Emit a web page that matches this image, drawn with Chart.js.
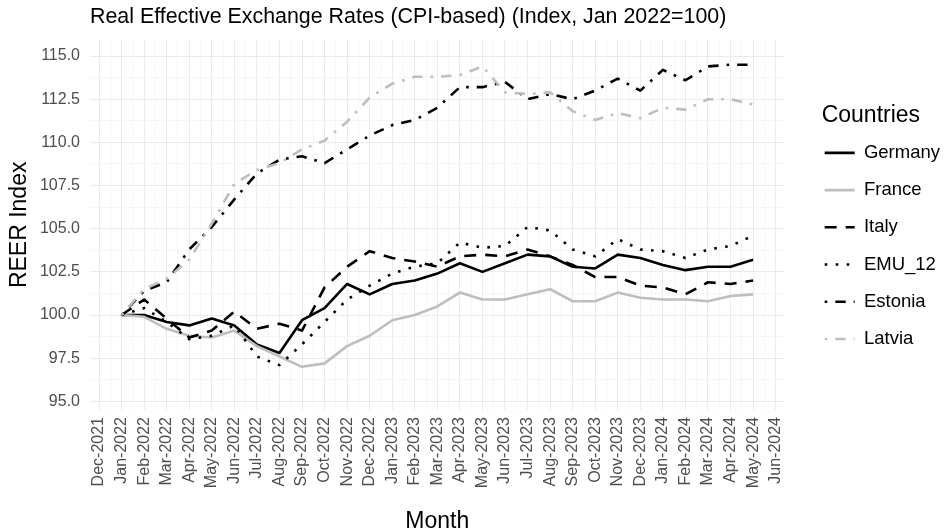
<!DOCTYPE html>
<html>
<head>
<meta charset="utf-8">
<title>REER chart</title>
<script src="https://cdn.jsdelivr.net/npm/chart.js@4.4.1/dist/chart.umd.min.js"></script>
<style>
  html, body { margin: 0; padding: 0; background: #ffffff; }
  #wrap { width: 952px; height: 532px; }
</style>
</head>
<body>
<div id="wrap"><canvas id="reerChart" width="952" height="532"></canvas></div>
<script>
// Tick labels on the month axis (Dec-2021 .. Jun-2024), data runs Jan-2022 .. May-2024
const months = [
    'Dec-2021', 'Jan-2022', 'Feb-2022', 'Mar-2022', 'Apr-2022', 'May-2022', 'Jun-2022',
    'Jul-2022', 'Aug-2022', 'Sep-2022', 'Oct-2022', 'Nov-2022', 'Dec-2022',
    'Jan-2023', 'Feb-2023', 'Mar-2023', 'Apr-2023', 'May-2023', 'Jun-2023',
    'Jul-2023', 'Aug-2023', 'Sep-2023', 'Oct-2023', 'Nov-2023', 'Dec-2023',
    'Jan-2024', 'Feb-2024', 'Mar-2024', 'Apr-2024', 'May-2024', 'Jun-2024'
];

const germany = [100.0, 100.0, 99.6, 99.4, 99.8, 99.4, 98.3, 97.8, 99.7, 100.4, 101.8, 101.2,
    101.8, 102.0, 102.4, 103.0, 102.5, 103.0, 103.5, 103.4, 102.8, 102.7, 103.5, 103.3,
    102.9, 102.6, 102.8, 102.8, 103.2];
const france = [100.0, 99.9, 99.2, 98.8, 98.7, 99.1, 98.2, 97.6, 97.0, 97.2, 98.2, 98.8,
    99.7, 100.0, 100.5, 101.3, 100.9, 100.9, 101.2, 101.5, 100.8, 100.8, 101.3, 101.0,
    100.9, 100.9, 100.8, 101.1, 101.2];
const italy = [100.0, 100.9, 99.8, 98.7, 99.1, 100.2, 99.2, 99.5, 99.1, 101.6, 102.8, 103.7,
    103.3, 103.1, 102.8, 103.4, 103.5, 103.4, 103.8, 103.4, 102.9, 102.2, 102.2, 101.7,
    101.6, 101.2, 101.9, 101.8, 102.0];
const emu12 = [100.0, 100.4, 99.6, 98.6, 98.8, 99.4, 97.6, 97.1, 98.3, 99.6, 100.9, 101.7,
    102.4, 102.8, 103.0, 104.2, 103.9, 104.0, 105.1, 104.9, 103.8, 103.4, 104.4, 103.8,
    103.7, 103.3, 103.8, 104.0, 104.6];
const estonia = [100.0, 101.4, 101.9, 103.8, 105.1, 106.7, 108.2, 109.0, 109.2, 108.8, 109.6, 110.4,
    111.0, 111.3, 112.0, 113.2, 113.2, 113.5, 112.5, 112.8, 112.5, 113.0, 113.7, 113.0,
    114.2, 113.6, 114.4, 114.5, 114.5];
const latvia = [100.0, 101.5, 102.1, 103.2, 105.3, 107.6, 108.4, 108.8, 109.6, 110.1, 111.2, 112.6,
    113.4, 113.8, 113.8, 113.9, 114.4, 112.9, 112.8, 112.9, 111.8, 111.3, 111.7, 111.4,
    112.0, 111.9, 112.5, 112.5, 112.2];

const countries = ['Germany', 'France', 'Italy', 'EMU_12', 'Estonia', 'Latvia'];
const seriesValues = [germany, france, italy, emu12, estonia, latvia];

// line look per country (ggplot linetypes: solid, dashed, dotted, dotdash)
const BLACK = '#000000';
const GREY = '#bebebe';
const lineStyles = [
    { color: BLACK, dash: [] },
    { color: GREY, dash: [] },
    { color: BLACK, dash: [12, 9] },
    { color: BLACK, dash: [2.6, 8.4] },
    { color: BLACK, dash: [2.6, 8, 10.4, 8] },
    { color: GREY, dash: [2.6, 8, 10.4, 8] }
];

const FONT = "'Liberation Sans', Arial, sans-serif";
const LEGEND_SHIFT = 37;

// ggplot leaves a gap between panel and legend; nudge the legend box right after layout
const legendNudge = {
    id: 'legendNudge',
    afterLayout(chart) {
        if (!chart.legend) return;
        chart.legend.left += LEGEND_SHIFT;
        chart.legend.right += LEGEND_SHIFT;
    }
};

function isStep(v, step) {
    const r = v / step;
    return Math.abs(r - Math.round(r)) < 1e-6;
}

const datasets = countries.map((name, i) => ({
    label: name,
    data: seriesValues[i].map((v, k) => ({ x: k + 1, y: v })),
    borderColor: lineStyles[i].color,
    backgroundColor: lineStyles[i].color,
    borderDash: lineStyles[i].dash,
    borderWidth: 2.6,
    borderCapStyle: 'butt',
    borderJoinStyle: 'round',
    pointRadius: 0,
    tension: 0,
    fill: false,
    order: countries.length - i   // later series drawn on top, like ggplot
}));

const ctx = document.getElementById('reerChart');
new Chart(ctx, {
    type: 'line',
    data: { datasets },
    options: {
        responsive: false,
        animation: false,
        devicePixelRatio: 1,
        layout: { padding: { left: 0, right: 39, top: 0, bottom: 0 } },
        plugins: {
            tooltip: { enabled: false },
            title: {
                display: true,
                text: 'Real Effective Exchange Rates (CPI-based) (Index, Jan 2022=100)',
                align: 'start',
                fullSize: false,
                color: '#000000',
                font: { family: FONT, size: 21.4, weight: 'normal' },
                padding: { top: 4, bottom: 10 }
            },
            legend: {
                position: 'right',
                align: 'start',
                title: {
                    display: true,
                    text: 'Countries',
                    position: 'start',
                    color: '#000000',
                    font: { family: FONT, size: 23, weight: 'normal' },
                    padding: { top: 104, bottom: 9 }
                },
                labels: {
                    usePointStyle: true,
                    pointStyle: 'line',
                    pointStyleWidth: 30,
                    padding: 3,
                    color: '#000000',
                    font: { family: FONT, size: 18.5, lineHeight: 1.85 },
                    sort: (a, b) => a.datasetIndex - b.datasetIndex,
                    generateLabels(chart) {
                        const items = Chart.defaults.plugins.legend.labels.generateLabels(chart);
                        return items.map(it => {
                            const ds = chart.data.datasets[it.datasetIndex];
                            // array text lets the font line height set the row spacing
                            return Object.assign(it, {
                                text: [it.text],
                                strokeStyle: ds.borderColor,
                                fillStyle: ds.borderColor,
                                lineDash: ds.borderDash,
                                lineWidth: ds.borderWidth,
                                lineCap: 'butt'
                            });
                        });
                    }
                }
            }
        },
        scales: {
            x: {
                type: 'linear',
                min: -0.4,
                max: 30.4,
                afterFit(scale) { scale.height = 122; },
                border: { display: false },
                grid: {
                    drawTicks: false,
                    lineWidth: 1,
                    color: c => (c.tick && isStep(c.tick.value, 1)) ? '#ebebeb' : '#f5f5f5'
                },
                ticks: {
                    stepSize: 0.5,
                    includeBounds: false,
                    autoSkip: false,
                    minRotation: 90,
                    maxRotation: 90,
                    padding: 7,
                    color: '#4d4d4d',
                    font: { family: FONT, size: 16 },
                    callback: v => {
                        if (isStep(v, 1)) return months[Math.round(v)];
                        return isStep(v, 0.5) ? '' : null;
                    }
                },
                title: {
                    display: true,
                    text: 'Month',
                    color: '#000000',
                    font: { family: FONT, size: 23 },
                    padding: { top: 0, bottom: -3 }
                }
            },
            y: {
                type: 'linear',
                min: 94.5,
                max: 115.95,
                afterFit(scale) { scale.width = 90; },
                border: { display: false },
                grid: {
                    drawTicks: false,
                    lineWidth: 1,
                    color: c => (c.tick && isStep(c.tick.value, 2.5)) ? '#ebebeb' : '#f5f5f5'
                },
                ticks: {
                    stepSize: 1.25,
                    includeBounds: false,
                    padding: 10,
                    color: '#4d4d4d',
                    font: { family: FONT, size: 16 },
                    callback: v => {
                        if (isStep(v, 2.5)) return v.toFixed(1);
                        return isStep(v, 1.25) ? '' : null;
                    }
                },
                title: {
                    display: true,
                    text: 'REER Index',
                    color: '#000000',
                    font: { family: FONT, size: 23 },
                    padding: { top: 6, bottom: 0 }
                }
            }
        }
    },
    plugins: [legendNudge]
});
</script>
</body>
</html>
